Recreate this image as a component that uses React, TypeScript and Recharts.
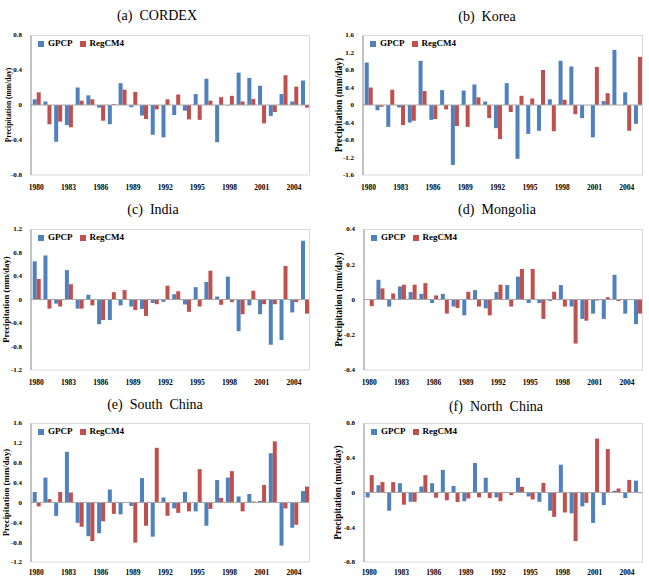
import { BarChart, Bar, XAxis, YAxis, ReferenceLine } from "recharts";

const years = [
  "1980", "1981", "1982", "1983", "1984", "1985", "1986", "1987", "1988",
  "1989", "1990", "1991", "1992", "1993", "1994", "1995", "1996", "1997",
  "1998", "1999", "2000", "2001", "2002", "2003", "2004", "2005",
];

// precipitation anomalies, mm/day
const cordexGpcp = [0.065, 0.04, -0.42, -0.23, 0.2, 0.11, -0.03, -0.22, 0.25, -0.025, -0.12, -0.34, -0.37, -0.115, -0.065, 0.125, 0.3, -0.425, -0.005, 0.37, 0.31, 0.22, -0.125, 0.125, 0.04, 0.28];
const cordexRegcm = [0.145, -0.22, -0.19, -0.255, 0.05, 0.065, -0.18, 0.01, 0.175, 0.15, -0.16, -0.05, 0.065, 0.12, -0.165, -0.17, 0.05, 0.09, 0.105, 0.04, 0.07, -0.21, -0.08, 0.34, 0.21, -0.03];

const koreaGpcp = [0.97, -0.12, -0.5, -0.055, -0.4, 1.01, -0.34, 0.34, -1.37, 0.33, 0.47, 0.08, -0.53, 0.5, -1.23, -0.66, -0.59, 0.13, 1.01, 0.88, -0.3, -0.74, 0.09, 1.26, 0.29, -0.43];
const koreaRegcm = [0.4, -0.04, 0.35, -0.46, -0.36, 0.32, -0.32, -0.1, -0.48, -0.5, 0.175, -0.3, -0.78, -0.16, 0.21, 0.15, 0.8, -0.6, 0.12, -0.21, 0, 0.87, 0.27, 0, -0.59, 1.1];

const indiaGpcp = [0.65, 0.75, -0.07, 0.5, -0.155, 0.08, -0.42, -0.35, -0.1, -0.12, -0.16, -0.06, -0.04, 0.09, -0.085, 0.21, 0.3, 0.05, 0.39, -0.54, -0.1, -0.25, -0.77, -0.69, -0.22, 1.0];
const indiaRegcm = [0.35, -0.155, -0.12, 0.26, -0.155, -0.1, -0.35, 0.125, 0.16, -0.18, -0.28, -0.08, 0.235, 0.14, -0.21, -0.12, 0.49, -0.09, -0.045, -0.25, 0.15, -0.08, -0.08, 0.57, -0.045, -0.24];

const mongoliaGpcp = [0, 0.112, -0.04, 0.074, 0.042, 0.032, -0.02, 0.032, -0.04, -0.09, 0.053, -0.05, 0.042, 0.082, 0.13, -0.02, -0.02, -0.008, 0.082, -0.04, -0.11, -0.08, -0.11, 0.14, -0.08, -0.14];
const mongoliaRegcm = [-0.038, 0.063, 0.034, 0.084, 0.084, 0.093, 0.023, -0.08, -0.048, 0.044, -0.04, -0.09, 0.084, -0.04, 0.173, 0.173, -0.11, 0.044, -0.04, -0.25, -0.12, -0.006, 0.013, -0.008, 0, -0.08];

const southGpcp = [0.21, 0.5, -0.27, 1.02, -0.41, -0.68, -0.62, 0.26, -0.24, -0.07, 0.49, -0.69, 0.1, -0.12, 0.21, -0.18, -0.47, 0.45, 0.5, 0.12, 0.17, 0.03, 0.99, -0.87, -0.51, 0.23];
const southRegcm = [-0.08, 0.067, 0.21, 0.2, -0.49, -0.78, -0.38, -0.23, -0.01, -0.81, -0.47, 1.1, -0.27, -0.21, -0.18, 0.67, -0.13, 0.09, 0.63, -0.18, 0.02, 0.35, 1.23, -0.12, -0.45, 0.32];

const northGpcp = [-0.057, 0.084, -0.21, 0.107, -0.107, 0.069, 0.107, 0.26, 0.076, -0.1, 0.34, 0.17, -0.057, 0, 0.17, -0.046, -0.107, -0.21, 0.32, -0.24, -0.16, -0.35, -0.145, 0.02, -0.065, 0.137];
const northRegcm = [0.2, 0.12, 0.12, -0.14, -0.107, 0.2, -0.06, -0.09, -0.11, -0.069, -0.057, -0.065, -0.1, -0.03, 0.065, -0.08, 0.11, -0.28, -0.23, -0.56, -0.12, 0.62, 0.5, 0.046, 0.145, -0.008];

const ticks08 = [-0.8, -0.4, 0, 0.4, 0.8];
const ticks16 = [-1.6, -1.2, -0.8, -0.4, 0, 0.4, 0.8, 1.2, 1.6];
const ticks12 = [-1.2, -0.8, -0.4, 0, 0.4, 0.8, 1.2];
const ticks04 = [-0.4, -0.2, 0, 0.2, 0.4];
const ticksSouth = [-1.2, -0.8, -0.4, 0, 0.4, 0.8, 1.2, 1.6];

const GPCP_COLOR = "#4f81bd";
const REGCM_COLOR = "#c0504d";
const SERIF = '"Liberation Serif", "Times New Roman", serif';

type PanelProps = {
  title: string;
  gpcp: number[];
  regcm: number[];
  ticks: number[];
  left: number;
  plot: [number, number, number, number]; // left, top, right, bottom
  titleX: number;
  titleY: number;
  labelX: number;
  labelSize: number;
  tickGap: number;
};

function Panel(p: PanelProps) {
  const data = years.map((year, i) => ({ year, gpcp: p.gpcp[i], regcm: p.regcm[i] }));
  const [pl, pt, pr, pb] = p.plot;
  const yAxisWidth = pl - p.left;
  const width = pr + 5 - p.left;
  const height = 7 + (pb - pt) + 18;
  const domain = [p.ticks[0], p.ticks[p.ticks.length - 1]];
  return (
    <>
      <div
        style={{
          position: "absolute",
          left: p.titleX - 100,
          width: 200,
          top: p.titleY - 9,
          textAlign: "center",
          fontFamily: SERIF,
          fontSize: 14,
          whiteSpace: "pre",
          lineHeight: "18px",
        }}
      >
        {p.title}
      </div>
      <div style={{ position: "absolute", left: p.left, top: pt - 7 }}>
        <BarChart
          width={width}
          height={height}
          data={data}
          margin={{ top: 7, right: 5, left: 0, bottom: 0 }}
          barCategoryGap="16%"
          barGap={0}
        >
          <XAxis
            dataKey="year"
            interval={2}
            tickLine={false}
            axisLine={{ stroke: "#d9d9d9" }}
            tickMargin={p.tickGap}
            height={18}
            tick={{ fontSize: 7.5, fontWeight: "bold", fill: "#000", fontFamily: SERIF }}
          />
          <YAxis
            type="number"
            domain={domain}
            ticks={p.ticks}
            interval={0}
            width={yAxisWidth}
            tickLine={false}
            tickMargin={3}
            axisLine={{ stroke: "#868686" }}
            tickFormatter={(v: number) => String(Math.round(v * 10) / 10)}
            tick={{ fontSize: 7, fontWeight: "bold", fill: "#000", fontFamily: SERIF }}
            label={{
              value: "Precipitation (mm/day)",
              angle: -90,
              position: "insideLeft",
              offset: p.labelX,
              style: {
                textAnchor: "middle",
                fontSize: p.labelSize,
                fontWeight: "bold",
                fill: "#000",
                fontFamily: SERIF,
              },
            }}
          />
          <ReferenceLine y={0} stroke="#a6a6a6" />
          <Bar dataKey="gpcp" fill={GPCP_COLOR} isAnimationActive={false} />
          <Bar dataKey="regcm" fill={REGCM_COLOR} isAnimationActive={false} />
        </BarChart>
      </div>
      {/* top and right edges of the plot frame */}
      <div
        style={{
          position: "absolute",
          left: pl,
          top: pt,
          width: pr - pl,
          height: pb - pt,
          borderTop: "1px solid #d9d9d9",
          borderRight: "1px solid #d9d9d9",
          boxSizing: "border-box",
          pointerEvents: "none",
        }}
      />
      <div
        style={{
          position: "absolute",
          left: pl + 7,
          top: pt + 3,
          display: "flex",
          alignItems: "center",
          fontFamily: SERIF,
          fontSize: 9,
          fontWeight: "bold",
          lineHeight: "11px",
        }}
      >
        <span style={{ width: 6, height: 6, background: GPCP_COLOR, marginRight: 4 }} />
        <span style={{ marginRight: 7 }}>GPCP</span>
        <span style={{ width: 6, height: 6, background: REGCM_COLOR, marginRight: 4 }} />
        <span>RegCM4</span>
      </div>
    </>
  );
}

export default function App() {
  return (
    <div style={{ position: "absolute", left: 0, top: 0, width: 649, height: 576, background: "#fff", overflow: "hidden" }}>
      <Panel title="(a)  CORDEX" gpcp={cordexGpcp} regcm={cordexRegcm} ticks={ticks08}
        left={0} plot={[31, 35, 310, 175]} titleX={157} titleY={16} labelX={8} labelSize={7.5} tickGap={4} />
      <Panel title="(b)  Korea" gpcp={koreaGpcp} regcm={koreaRegcm} ticks={ticks16}
        left={325} plot={[363, 35, 643, 175]} titleX={487} titleY={17} labelX={14} labelSize={9.5} tickGap={4} />
      <Panel title="(c)  India" gpcp={indiaGpcp} regcm={indiaRegcm} ticks={ticks12}
        left={0} plot={[31, 229, 310, 370]} titleX={153} titleY={210} labelX={6} labelSize={8.7} tickGap={4} />
      <Panel title="(d)  Mongolia" gpcp={mongoliaGpcp} regcm={mongoliaRegcm} ticks={ticks04}
        left={325} plot={[364, 229, 643, 370]} titleX={497} titleY={210} labelX={14} labelSize={9.5} tickGap={4} />
      <Panel title="(e)  South  China" gpcp={southGpcp} regcm={southRegcm} ticks={ticksSouth}
        left={0} plot={[31, 423, 310, 562]} titleX={155} titleY={405} labelX={6} labelSize={8.8} tickGap={2} />
      <Panel title="(f)  North  China" gpcp={northGpcp} regcm={northRegcm} ticks={ticks08}
        left={325} plot={[364, 423, 643, 562]} titleX={496} titleY={407} labelX={13} labelSize={9.5} tickGap={2} />
    </div>
  );
}
